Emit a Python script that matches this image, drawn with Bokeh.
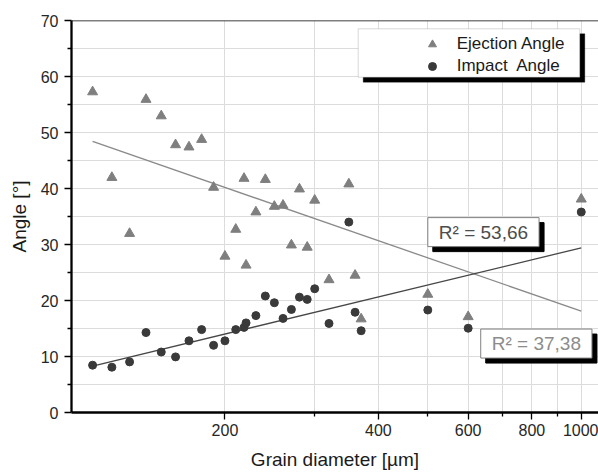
from bokeh.plotting import figure
from bokeh.models import (FixedTicker, NumeralTickFormatter, Legend, LegendItem,
                          Label, BoxAnnotation, Span)
from bokeh.embed import file_html
from bokeh.resources import INLINE

# ---- data ----
grain_diameter = [110, 120, 130, 140, 150, 160, 170, 180, 190, 200, 210, 218, 220, 230,
                  240, 250, 260, 270, 280, 290, 300, 320, 350, 360, 370, 500, 600, 1000]
ejection_angle = [57.25, 41.96, 31.96, 55.9, 52.96, 47.8, 47.4, 48.75, 40.2, 27.9, 32.7, 41.8,
                  26.3, 35.8, 41.6, 36.8, 37.0, 29.9, 39.9, 29.5, 37.9, 23.7, 40.8, 24.5,
                  16.7, 21.1, 17.1, 38.1]
impact_angle = [8.45, 8.09, 9.04, 14.28, 10.8, 9.93, 12.8, 14.8, 12.0, 12.8, 14.8, 15.2,
                16.0, 17.3, 20.8, 19.6, 16.8, 18.4, 20.6, 20.2, 22.1, 15.9, 34.0, 17.9,
                14.6, 18.3, 15.05, 35.8]

trend_x = [110, 1000]
ejection_trend = [48.4, 18.1]
impact_trend = [8.3, 29.4]

x_ticks = [200, 400, 600, 800, 1000]
x_minor_ticks = [300, 500, 700, 900]
y_ticks = [0, 10, 20, 30, 40, 50, 60, 70]
y_minor_ticks = [5, 15, 25, 35, 45, 55, 65]

r2_impact_text = "R² = 53,66"
r2_ejection_text = "R² = 37,38"

FONT = "Liberation Sans"
GRID = "#dcdcdc"

p = figure(width=598, height=475, x_axis_type="log", x_range=(100, 1081), y_range=(0, 70),
           output_backend="svg", toolbar_location=None,
           min_border_left=71, min_border_right=0, min_border_top=20, min_border_bottom=63)
p.outline_line_color = None
p.background_fill_color = "white"

# axes
p.xaxis.ticker = FixedTicker(ticks=x_ticks, minor_ticks=x_minor_ticks)
p.xaxis.formatter = NumeralTickFormatter(format="0")
p.yaxis.ticker = FixedTicker(ticks=y_ticks, minor_ticks=y_minor_ticks)
for ax in (p.xaxis[0], p.yaxis[0]):
    ax.axis_line_width = 2.3
    ax.axis_line_color = "black"
    ax.major_tick_line_color = "black"
    ax.minor_tick_line_color = "black"
    ax.major_tick_line_width = 1.3
    ax.minor_tick_line_width = 1.3
    ax.major_tick_in = 0
    ax.minor_tick_in = 0
    ax.minor_tick_out = 4
    ax.major_label_text_font = FONT
    ax.major_label_text_font_size = "16px"
    ax.major_label_text_color = "#262626"
    ax.axis_label_text_font = FONT
    ax.axis_label_text_font_size = "19px"
    ax.axis_label_text_font_style = "normal"
    ax.axis_label_text_color = "#1a1a1a"
p.xaxis.major_tick_out = 7
p.xaxis.major_label_standoff = 4
p.xaxis.axis_label_standoff = 10
p.xaxis.axis_label = "Grain diameter [µm]"
p.yaxis.major_tick_out = 7
p.yaxis.major_label_standoff = 6
p.yaxis.axis_label_standoff = 8
p.yaxis.axis_label = "Angle [°]"

# grids
p.xgrid.grid_line_color = GRID
p.xgrid.minor_grid_line_color = GRID
p.ygrid.grid_line_color = GRID
p.ygrid.minor_grid_line_color = GRID

# top frame line
p.add_layout(Span(location=y_ticks[-1], dimension="width", line_color="black", line_width=1.3))

# trend lines
p.line(trend_x, ejection_trend, line_color="#8a8a8a", line_width=1.3)
p.line(trend_x, impact_trend, line_color="#474747", line_width=1.3)

# points
r_ej = p.scatter(grain_diameter, ejection_angle, marker="triangle", size=10,
                 fill_color="#7f7f7f", line_color="#7f7f7f")
r_im = p.scatter(grain_diameter, impact_angle, marker="circle", size=8,
                 fill_color="#3a3a3a", line_color="#3a3a3a")

# legend box with shadow (canvas pixels)
p.add_layout(BoxAnnotation(left=362.7, right=584.3, top=33.3, bottom=81.7,
                           left_units="canvas", right_units="canvas",
                           top_units="canvas", bottom_units="canvas",
                           fill_color="black", fill_alpha=1, line_color="black"))
p.add_layout(BoxAnnotation(left=357.7, right=579.3, top=28.3, bottom=76.7,
                           left_units="canvas", right_units="canvas",
                           top_units="canvas", bottom_units="canvas",
                           fill_color="white", fill_alpha=1, line_color="#808080",
                           line_width=1))

legend = Legend(items=[LegendItem(label="Ejection Angle", renderers=[r_ej]),
                       LegendItem(label="Impact  Angle", renderers=[r_im])],
                location=(350.7, 335.7), padding=5, spacing=2,
                glyph_width=20, glyph_height=20, label_height=20, label_standoff=15,
                label_text_font=FONT, label_text_font_size="17px",
                label_text_color="#1a1a1a",
                background_fill_color=None, border_line_color=None)
p.add_layout(legend, "center")

# R² labels with shadows
def r2_label(x, y, text, color):
    common = dict(x=x, y=y, text=text, anchor="top_left", text_font=FONT,
                  text_font_size="19px",
                  padding=dict(left=11, right=11, top=4, bottom=4))
    shadow = Label(**common, x_offset=5, y_offset=-5, text_color="black",
                   background_fill_color="black", border_line_color="black")
    box = Label(**common, text_color=color, background_fill_color="white",
                border_line_color="#808080", border_line_width=1)
    p.add_layout(shadow)
    p.add_layout(box)

r2_label(500, 34.8, r2_impact_text, "#4d4d4d")
r2_label(635, 14.9, r2_ejection_text, "#8c8c8c")

open("out.html", "w").write(file_html(p, INLINE))
